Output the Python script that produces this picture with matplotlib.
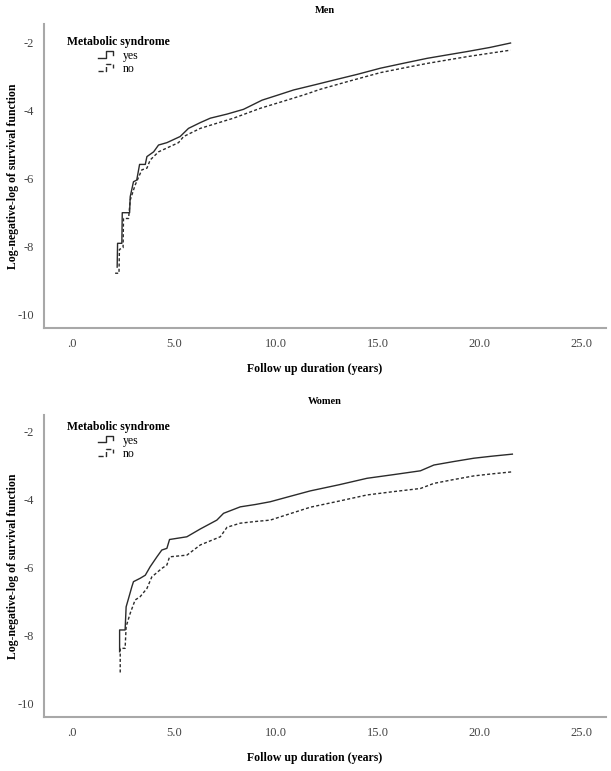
import matplotlib.pyplot as plt
from matplotlib.lines import Line2D
from matplotlib.legend_handler import HandlerBase

plt.rcParams['font.family'] = ['Liberation Serif', 'DejaVu Serif']
plt.rcParams['axes.unicode_minus'] = False

# Men - metabolic syndrome yes (solid)
men_yes_t = [2.21, 2.23, 2.44, 2.46, 2.82, 2.85, 3.01, 3.17, 3.31, 3.59, 3.67, 4.0, 4.24, 4.65,
             5.3, 5.71, 6.29, 6.78, 7.6, 8.41, 9.32, 10.1, 10.87, 11.9, 12.84, 14.0, 15.13,
             16.3, 17.42, 18.4, 19.39, 20.5, 21.51]
men_yes_y = [-8.62, -7.92, -7.92, -7.02, -7.02, -6.55, -6.11, -6.06, -5.6, -5.6, -5.37, -5.23, -5.03, -4.96,
             -4.78, -4.54, -4.37, -4.24, -4.12, -3.98, -3.71, -3.56, -3.41, -3.26, -3.12, -2.95, -2.77,
             -2.62, -2.48, -2.38, -2.28, -2.16, -2.03]
# Men - metabolic syndrome no (dashed)
men_no_t = [2.11, 2.3, 2.32, 2.5, 2.52, 2.77, 2.85, 3.09, 3.42, 3.67, 3.83, 4.24, 5.22, 5.47, 6.29, 7.1,
            7.92, 9.23, 10.54, 11.4, 12.18, 13.6, 15.13, 16.3, 17.42, 18.4, 19.39, 20.5, 21.51]
men_no_y = [-8.8, -8.8, -8.1, -8.05, -7.19, -7.19, -6.65, -6.21, -5.76, -5.71, -5.47, -5.23, -4.96, -4.78,
            -4.54, -4.39, -4.24, -3.95, -3.71, -3.55, -3.39, -3.15, -2.9, -2.76, -2.63, -2.53, -2.43,
            -2.33, -2.24]

# Women - metabolic syndrome yes (solid)
women_yes_t = [2.33, 2.33, 2.6, 2.65, 2.77, 2.93, 3.01, 3.34, 3.59, 3.83, 4.16, 4.4, 4.65, 4.78, 5.63,
               6.29, 7.1, 7.43, 8.25, 9.0, 9.72, 10.7, 11.69, 13.1, 14.47, 15.8, 17.09, 17.75,
               18.7, 19.71, 20.6, 21.6]
women_yes_y = [-8.49, -7.85, -7.85, -7.17, -6.92, -6.58, -6.43, -6.33, -6.24, -5.99, -5.7, -5.5, -5.45, -5.19,
               -5.11, -4.88, -4.62, -4.42, -4.23, -4.16, -4.08, -3.92, -3.76, -3.58, -3.39, -3.28, -3.17,
               -3.0, -2.9, -2.8, -2.74, -2.68]
# Women - metabolic syndrome no (dashed)
women_no_t = [2.36, 2.36, 2.6, 2.65, 2.85, 3.09, 3.34, 3.67, 3.91, 4.4, 4.65, 4.78, 5.63, 6.29, 7.27,
              7.6, 8.25, 9.0, 9.72, 10.7, 11.69, 13.1, 14.47, 15.8, 17.09, 17.75, 18.7, 19.71,
              20.6, 21.6]
women_no_y = [-9.1, -8.39, -8.39, -7.75, -7.36, -6.97, -6.87, -6.63, -6.29, -6.04, -5.94, -5.7, -5.65, -5.35,
              -5.11, -4.83, -4.71, -4.66, -4.62, -4.43, -4.24, -4.06, -3.88, -3.78, -3.69, -3.54, -3.43,
              -3.32, -3.26, -3.2]

x_ticks = [0, 5, 10, 15, 20, 25]
x_ticklabels = ['.0', '5.0', '10.0', '15.0', '20.0', '25.0']
y_ticks = [-2, -4, -6, -8, -10]
groups = ['yes', 'no']

line_col = '#2b2b2b'
dash = (0, (2.2, 1.6))


class StepHandler(HandlerBase):
    # little step-shaped legend key, like SPSS draws it
    def create_artists(self, legend, orig_handle, xdescent, ydescent, width, height, fontsize, trans):
        w = width * 0.8
        xs = [-xdescent, -xdescent + w * 0.5, -xdescent + w * 0.5, -xdescent + w, -xdescent + w]
        ys = [-ydescent + height * 0.15, -ydescent + height * 0.15, -ydescent + height * 0.95,
              -ydescent + height * 0.95, -ydescent + height * 0.5]
        ln = Line2D(xs, ys, color=orig_handle.get_color(), linestyle=orig_handle.get_linestyle(),
                    linewidth=orig_handle.get_linewidth(), transform=trans)
        return [ln]


fig = plt.figure(figsize=(6.11, 7.71), dpi=100)
ax1 = fig.add_axes([0.072, 0.5746, 0.920, 0.3943])
ax2 = fig.add_axes([0.072, 0.0700, 0.920, 0.3917])

panels = [
    (ax1, 'Men', men_yes_t, men_yes_y, men_no_t, men_no_y, (-10.41, -1.47), 0.941, 0.915),
    (ax2, 'Women', women_yes_t, women_yes_y, women_no_t, women_no_y, (-10.41, -1.53), 0.962, 0.935),
]

for ax, title, yt, yy, nt, ny, ylim, leg_title_y, leg_y in panels:
    l1, = ax.plot(yt, yy, color=line_col, lw=1.0)
    l2, = ax.plot(nt, ny, color=line_col, lw=1.0, linestyle=dash)
    ax.set_xlim(-1.38, 26.2)
    ax.set_ylim(*ylim)
    ax.set_xticks(x_ticks)
    ax.set_xticklabels(x_ticklabels)
    ax.set_yticks(y_ticks)
    ax.tick_params(length=0, labelsize=9, colors='#444444', pad=7)
    for s in ['top', 'right']:
        ax.spines[s].set_visible(False)
    for s in ['left', 'bottom']:
        ax.spines[s].set_color('#a8a8a8')
        ax.spines[s].set_linewidth(1.5)
    ax.set_xlabel('Follow up duration (years)', fontsize=8.5, fontweight='bold')
    ax.xaxis.set_label_coords(0.482, -0.115)
    ax.set_ylabel('Log-negative-log of survival function', fontsize=8.5, fontweight='bold')
    ax.yaxis.set_label_coords(-0.045, 0.5)
    ax.text(0.041, leg_title_y, 'Metabolic syndrome', transform=ax.transAxes, fontsize=8.5,
            fontweight='bold', va='center', ha='left')
    ax.legend([l1, l2], groups, handler_map={Line2D: StepHandler()}, loc='upper left',
              bbox_to_anchor=(0.096, leg_y), frameon=False, fontsize=8.5, handlelength=1.6,
              handletextpad=0.5, labelspacing=0.1, borderpad=0, borderaxespad=0)
    ax.set_title(title, fontsize=7.5, fontweight='bold', pad=8)

plt.savefig('out.png', dpi=100)
